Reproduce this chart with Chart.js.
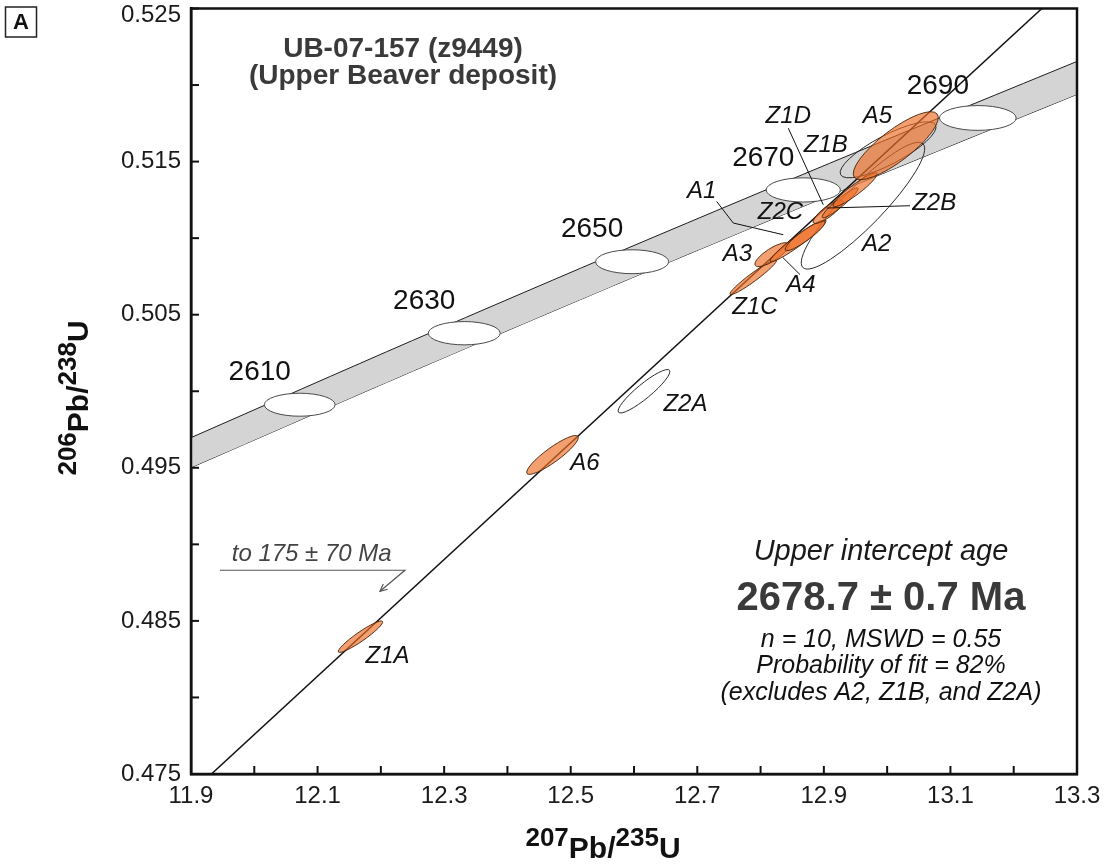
<!DOCTYPE html>
<html>
<head>
<meta charset="utf-8">
<script src="https://cdn.jsdelivr.net/npm/chart.js@4.4.1/dist/chart.umd.min.js"></script>
<style>
  html, body { margin: 0; padding: 0; background: #ffffff; }
  canvas { display: block; }
</style>
</head>
<body>
<canvas id="concordia" width="1110" height="865"></canvas>
<script>
// ---- axis ticks ----
const xTickValues = [11.9, 12.0, 12.1, 12.2, 12.3, 12.4, 12.5, 12.6, 12.7, 12.8, 12.9, 13.0, 13.1, 13.2, 13.3];
const xTickLabels = ['11.9', '12.1', '12.3', '12.5', '12.7', '12.9', '13.1', '13.3'];
const yTickValues = [0.475, 0.480, 0.485, 0.490, 0.495, 0.500, 0.505, 0.510, 0.515, 0.520, 0.525];
const yTickLabels = ['0.475', '0.485', '0.495', '0.505', '0.515', '0.525'];

// ---- concordia age marks (Ma) with 2-sigma half widths ----
const concordiaAges = [2610, 2630, 2650, 2670, 2690];
const concordiaX = [12.0718, 12.3318, 12.5970, 12.8675, 13.1433];
const concordiaY = [0.49912, 0.50379, 0.50846, 0.51315, 0.51785];
const concordiaErrX = [0.0559, 0.0568, 0.0577, 0.0586, 0.0606];
const concordiaErrY = [0.00075, 0.00076, 0.00078, 0.00079, 0.00081];

// ---- concordia band (decay-constant uncertainty envelope) ----
const bandX = [11.9, 12.25, 12.6, 12.95, 13.3];
const bandUpperY = [0.496971, 0.503315, 0.509521, 0.515593, 0.521543];
const bandLowerY = [0.495015, 0.501309, 0.507467, 0.513489, 0.519391];

// ---- discordia chord (175 Ma to 2678.7 Ma) ----
const discordiaX = [11.9323, 13.2445];
const discordiaY = [0.475, 0.525];

// ---- analyses: 207Pb/235U, 206Pb/238U, 2-sigma half widths, error correlation ----
const analysisNames = ['Z1A', 'A6', 'Z2A', 'Z1C', 'A3', 'A4', 'A1', 'Z2C', 'Z1D', 'Z2B', 'A2', 'Z1B', 'A5'];
const analysisX    = [12.1678, 12.4712, 12.6158, 12.7885, 12.8180, 12.8593, 12.8704, 12.9067, 12.9257, 12.9494, 12.9618, 13.0015, 13.0136];
const analysisY    = [0.48397, 0.49584, 0.50000, 0.50745, 0.50892, 0.50983, 0.51016, 0.51173, 0.51231, 0.51316, 0.51212, 0.51577, 0.51604];
const analysisErrX = [0.0351, 0.0408, 0.0409, 0.0368, 0.0269, 0.0442, 0.0316, 0.0237, 0.0284, 0.0348, 0.0975, 0.0758, 0.0672];
const analysisErrY = [0.00103, 0.00127, 0.00142, 0.00114, 0.00078, 0.00137, 0.00098, 0.00078, 0.00098, 0.00111, 0.00414, 0.00183, 0.00222];
const analysisRho  = [0.937, 0.893, 0.907, 0.958, 0.79, 0.955, 0.909, 0.846, 0.938, 0.928, 0.899, 0.815, 0.825];
const excludedAnalyses = ['A2', 'Z1B', 'Z2A'];

// ---- annotation placement (data units) ----
const analysisLabels = [
  { text: 'A1',  x: 12.7069, y: 0.513063 },
  { text: 'A2',  x: 12.9834, y: 0.509573 },
  { text: 'A3',  x: 12.7635, y: 0.508920 },
  { text: 'A4',  x: 12.8638, y: 0.506898 },
  { text: 'A5',  x: 12.9847, y: 0.517955 },
  { text: 'A6',  x: 12.5225, y: 0.495287 },
  { text: 'Z1A', x: 12.2105, y: 0.482717 },
  { text: 'Z1B', x: 12.9030, y: 0.516063 },
  { text: 'Z1C', x: 12.7911, y: 0.505463 },
  { text: 'Z1D', x: 12.8438, y: 0.517955 },
  { text: 'Z2A', x: 12.6813, y: 0.499135 },
  { text: 'Z2B', x: 13.0743, y: 0.512247 },
  { text: 'Z2C', x: 12.8314, y: 0.511660 }
];
const leaderLines = [
  [[12.7306, 0.512397], [12.7569, 0.510988], [12.8359, 0.510225]],
  [[12.8438, 0.517185], [12.8991, 0.512182]],
  [[13.0361, 0.512117], [12.9044, 0.511967]],
  [[12.8624, 0.507616], [12.8354, 0.508725]]
];
const lowerInterceptNote = { text: 'to 175 \u00b1 70 Ma', x: 12.0907, y: 0.489351,
  line: [[11.9458, 0.488307], [12.2381, 0.488307]], arrowTo: [12.1986, 0.486937] };

const FONT = '"Liberation Sans", Arial, Helvetica, sans-serif';

function pts(xs, ys) { return xs.map((x, i) => ({ x: x, y: ys[i] })); }

function ellipsePath(ctx, xs, ys, cx, cy, ex, ey, rho) {
  const px = xs.getPixelForValue(cx), py = ys.getPixelForValue(cy);
  const a = Math.abs(xs.getPixelForValue(cx + ex) - px);
  const b = Math.abs(ys.getPixelForValue(cy + ey) - py);
  const c = -rho * a * b;               // screen y runs downward
  const sxx = a * a, syy = b * b;
  const m = (sxx + syy) / 2;
  const d = Math.sqrt(((sxx - syy) / 2) ** 2 + c * c);
  const l1 = m + d, l2 = Math.max(m - d, 0.01);
  const th = 0.5 * Math.atan2(2 * c, sxx - syy);
  ctx.beginPath();
  ctx.ellipse(px, py, Math.sqrt(l1), Math.sqrt(l2), th, 0, Math.PI * 2);
}

function richText(ctx, parts, x, y, align) {
  // parts: [{t, font, dy}] drawn on a shared baseline
  let total = 0;
  parts.forEach(p => { ctx.font = p.font; p.w = ctx.measureText(p.t).width; total += p.w; });
  let cx = align === 'center' ? x - total / 2 : x;
  ctx.textAlign = 'left';
  ctx.textBaseline = 'alphabetic';
  parts.forEach(p => { ctx.font = p.font; ctx.fillText(p.t, cx, y + (p.dy || 0)); cx += p.w; });
}

const overlay = {
  id: 'overlay',
  afterDatasetDraw(chart, args) {
    if (chart.data.datasets[args.index].label !== 'band-upper') return;
    const ctx = chart.ctx, xs = chart.scales.x, ys = chart.scales.y;
    ctx.save();
    concordiaAges.forEach((age, i) => {
      ellipsePath(ctx, xs, ys, concordiaX[i], concordiaY[i], concordiaErrX[i], concordiaErrY[i], 0);
      ctx.fillStyle = '#ffffff';
      ctx.fill();
      ctx.lineWidth = 1;
      ctx.strokeStyle = '#4a4a4a';
      ctx.stroke();
    });
    ctx.restore();
  },
  afterDatasetsDraw(chart) {
    const ctx = chart.ctx, xs = chart.scales.x, ys = chart.scales.y;
    const area = chart.chartArea;
    ctx.save();

    // excluded analyses: open ellipses
    analysisNames.forEach((n, i) => {
      if (!excludedAnalyses.includes(n)) return;
      ellipsePath(ctx, xs, ys, analysisX[i], analysisY[i], analysisErrX[i], analysisErrY[i], analysisRho[i]);
      ctx.lineWidth = 1;
      ctx.strokeStyle = '#2a2a2a';
      ctx.stroke();
    });
    // analyses used in the regression: translucent orange
    analysisNames.forEach((n, i) => {
      if (excludedAnalyses.includes(n)) return;
      ellipsePath(ctx, xs, ys, analysisX[i], analysisY[i], analysisErrX[i], analysisErrY[i], analysisRho[i]);
      ctx.fillStyle = 'rgba(238, 110, 38, 0.66)';
      ctx.fill();
      ctx.lineWidth = 1;
      ctx.strokeStyle = 'rgba(70, 35, 10, 0.9)';
      ctx.stroke();
    });

    // concordia age labels
    ctx.fillStyle = '#111';
    ctx.font = '28px ' + FONT;
    ctx.textAlign = 'center';
    ctx.textBaseline = 'middle';
    concordiaAges.forEach((age, i) => {
      ctx.fillText(String(age), xs.getPixelForValue(concordiaX[i]) - 40, ys.getPixelForValue(concordiaY[i]) - 32);
    });

    // analysis labels and leaders
    ctx.font = 'italic 24px ' + FONT;
    analysisLabels.forEach(l => ctx.fillText(l.text, xs.getPixelForValue(l.x), ys.getPixelForValue(l.y)));
    ctx.strokeStyle = '#111';
    ctx.lineWidth = 1;
    leaderLines.forEach(seg => {
      ctx.beginPath();
      seg.forEach((p, k) => {
        const X = xs.getPixelForValue(p[0]), Y = ys.getPixelForValue(p[1]);
        k ? ctx.lineTo(X, Y) : ctx.moveTo(X, Y);
      });
      ctx.stroke();
    });

    // lower intercept note with arrow
    const n = lowerInterceptNote;
    ctx.fillStyle = '#444';
    ctx.font = 'italic 24px ' + FONT;
    ctx.fillText(n.text, xs.getPixelForValue(n.x), ys.getPixelForValue(n.y));
    ctx.strokeStyle = '#555';
    ctx.lineWidth = 1.2;
    const u0 = [xs.getPixelForValue(n.line[0][0]), ys.getPixelForValue(n.line[0][1])];
    const u1 = [xs.getPixelForValue(n.line[1][0]), ys.getPixelForValue(n.line[1][1])];
    const at = [xs.getPixelForValue(n.arrowTo[0]), ys.getPixelForValue(n.arrowTo[1])];
    ctx.beginPath(); ctx.moveTo(u0[0], u0[1]); ctx.lineTo(u1[0], u1[1]); ctx.lineTo(at[0], at[1]); ctx.stroke();
    const ang = Math.atan2(at[1] - u1[1], at[0] - u1[0]);
    ctx.beginPath();
    ctx.moveTo(at[0] - 8 * Math.cos(ang - 0.45), at[1] - 8 * Math.sin(ang - 0.45));
    ctx.lineTo(at[0], at[1]);
    ctx.lineTo(at[0] - 8 * Math.cos(ang + 0.45), at[1] - 8 * Math.sin(ang + 0.45));
    ctx.stroke();

    // inward tick marks
    ctx.strokeStyle = '#111';
    ctx.lineWidth = 2;
    xTickValues.forEach(v => {
      const X = xs.getPixelForValue(v);
      ctx.beginPath(); ctx.moveTo(X, area.bottom); ctx.lineTo(X, area.bottom - 8); ctx.stroke();
    });
    yTickValues.forEach(v => {
      const Y = ys.getPixelForValue(v);
      ctx.beginPath(); ctx.moveTo(area.left, Y); ctx.lineTo(area.left + 8, Y); ctx.stroke();
    });
    // frame
    ctx.lineWidth = 2.5;
    ctx.strokeRect(area.left, area.top, area.right - area.left, area.bottom - area.top);

    // y tick labels, kept inside the canvas at the top edge
    ctx.fillStyle = '#1a1a1a';
    ctx.font = '24px ' + FONT;
    ctx.textAlign = 'right';
    ctx.textBaseline = 'middle';
    yTickLabels.forEach(t => {
      const Y = Math.max(ys.getPixelForValue(parseFloat(t)), 15);
      ctx.fillText(t, area.left - 10, Y);
    });

    // sample title
    ctx.fillStyle = '#3a3a3a';
    ctx.font = 'bold 28px ' + FONT;
    ctx.textAlign = 'center';
    ctx.textBaseline = 'alphabetic';
    ctx.fillText('UB-07-157 (z9449)', 403, 57);
    ctx.fillText('(Upper Beaver deposit)', 403, 84);

    // intercept summary
    const cx = 881;
    ctx.fillStyle = '#1a1a1a';
    ctx.font = 'italic 29px ' + FONT;
    ctx.fillText('Upper intercept age', cx, 560);
    ctx.fillStyle = '#3a3a3a';
    ctx.font = 'bold 40px ' + FONT;
    ctx.fillText('2678.7 \u00b1 0.7 Ma', cx, 610);
    ctx.fillStyle = '#111';
    ctx.font = 'italic 25px ' + FONT;
    ctx.fillText('n = 10, MSWD = 0.55', cx, 647);
    ctx.fillText('Probability of fit = 82%', cx, 673);
    ctx.fillText('(excludes A2, Z1B, and Z2A)', cx, 700);

    // axis titles
    ctx.fillStyle = '#111';
    richText(ctx, [
      { t: '207', font: 'bold 26px ' + FONT, dy: -12 },
      { t: 'Pb/', font: 'bold 30px ' + FONT },
      { t: '235', font: 'bold 26px ' + FONT, dy: -12 },
      { t: 'U', font: 'bold 30px ' + FONT }
    ], 603, 858, 'center');
    ctx.save();
    ctx.translate(88, 398);
    ctx.rotate(-Math.PI / 2);
    richText(ctx, [
      { t: '206', font: 'bold 26px ' + FONT, dy: -12 },
      { t: 'Pb/', font: 'bold 30px ' + FONT },
      { t: '238', font: 'bold 26px ' + FONT, dy: -12 },
      { t: 'U', font: 'bold 30px ' + FONT }
    ], 0, 0, 'center');
    ctx.restore();

    // panel letter
    ctx.lineWidth = 1.5;
    ctx.strokeStyle = '#222';
    ctx.strokeRect(5.5, 7, 31, 30);
    ctx.fillStyle = '#111';
    ctx.font = 'bold 22px ' + FONT;
    ctx.textAlign = 'center';
    ctx.textBaseline = 'middle';
    ctx.fillText('A', 21, 23);

    ctx.restore();
  }
};

const hasLabel = (list, v, d) => list.includes(v.toFixed(d));

new Chart(document.getElementById('concordia'), {
  type: 'line',
  data: {
    datasets: [
      { label: 'band-upper', data: pts(bandX, bandUpperY), order: 3, fill: '+1',
        backgroundColor: '#d4d4d4', borderColor: '#1e1e1e', borderWidth: 1, pointRadius: 0, tension: 0.3 },
      { label: 'band-lower', data: pts(bandX, bandLowerY), order: 3, fill: false,
        borderColor: '#1e1e1e', borderWidth: 1, pointRadius: 0, tension: 0.3 },
      { label: 'discordia', data: pts(discordiaX, discordiaY), order: 1, fill: false,
        borderColor: '#111', borderWidth: 1.5, pointRadius: 0 }
    ]
  },
  options: {
    responsive: false,
    animation: false,
    events: [],
    layout: { padding: { left: 0, right: 33, top: 8.5, bottom: 0 } },
    plugins: { legend: { display: false }, tooltip: { enabled: false } },
    scales: {
      x: {
        type: 'linear', min: 11.9, max: 13.3,
        afterBuildTicks: s => { s.ticks = xTickValues.map(v => ({ value: v })); },
        afterFit: s => { s.height = 91; s.paddingLeft = 0; s.paddingRight = 0; },
        ticks: { autoSkip: false, maxRotation: 0, padding: 8, color: '#1a1a1a',
                 font: { family: FONT, size: 24 },
                 callback: v => hasLabel(xTickLabels, v, 1) ? v.toFixed(1) : '' },
        grid: { display: false, drawTicks: false },
        border: { display: true, color: '#111', width: 2.5 }
      },
      y: {
        type: 'linear', min: 0.475, max: 0.525,
        afterBuildTicks: s => { s.ticks = yTickValues.map(v => ({ value: v })); },
        afterFit: s => { s.width = 191; s.paddingTop = 0; s.paddingBottom = 0; },
        ticks: { display: false },
        grid: { display: false, drawTicks: false },
        border: { display: true, color: '#111', width: 2.5 }
      }
    }
  },
  plugins: [overlay]
});
</script>
</body>
</html>
